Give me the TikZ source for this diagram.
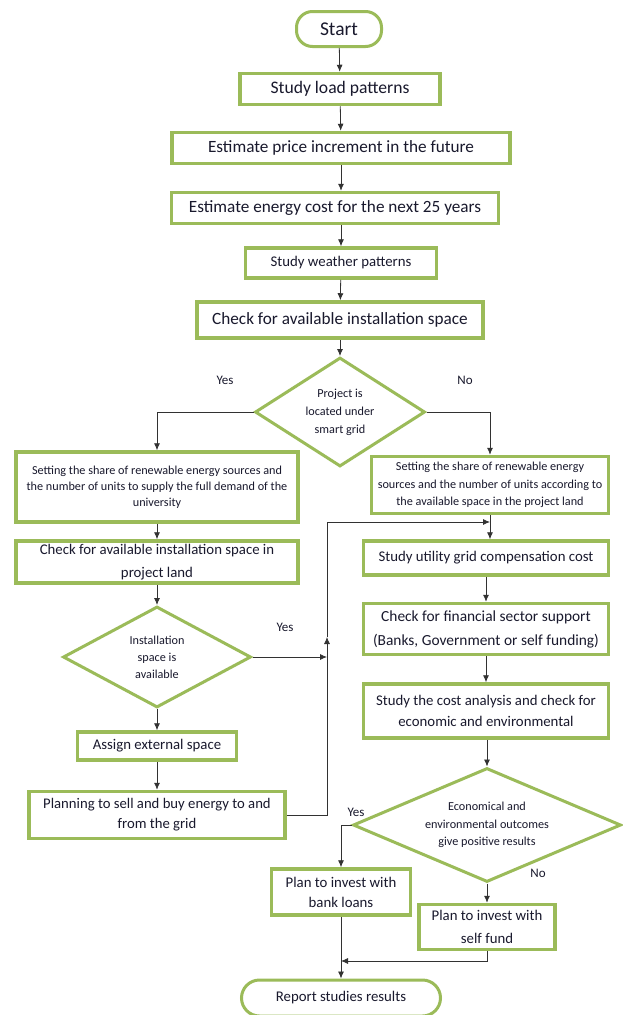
\documentclass[tikz,border=0pt]{standalone}
\usepackage{fontspec}
\setmainfont{Carlito}
\usetikzlibrary{shapes.geometric,arrows.meta}
\definecolor{boxgreen}{RGB}{155,187,89}
\definecolor{linegray}{RGB}{50,50,50}
\definecolor{inkblue}{RGB}{25,25,45}
\newcommand{\bigtxt}{\fontsize{17.2}{20}\selectfont}
\newcommand{\midtxt}{\fontsize{14.8}{22}\selectfont}
\newcommand{\smalltxt}{\fontsize{12.2}{17}\selectfont}

\tikzset{
  stepbox/.style={draw=boxgreen, line width=3.5pt, fill=white, align=center, inner sep=1pt, text=inkblue},
  endbox/.style={stepbox, line width=3pt, rounded corners=16pt},
  decision/.style={diamond, draw=boxgreen, line width=3pt, fill=white, align=center,
    inner sep=0pt, text=inkblue, font=\smalltxt},
  flow/.style={draw=linegray, line width=0.8pt, -{Latex[length=7pt,width=6pt]}},
  answer/.style={text=inkblue, font=\fontsize{13}{15}\selectfont}
}

\begin{document}
\begin{tikzpicture}[x=1pt,y=-1pt]
  \useasboundingbox[fill=white] (0,0) rectangle (623,1015);

  % main column
  \node[endbox, minimum width=85pt, minimum height=35pt, font=\fontsize{19.5}{22}\selectfont] (start) at (339,29) {Start};
  \node[stepbox, minimum width=200pt, minimum height=31pt, font=\fontsize{17.6}{20}\selectfont] (load) at (340,89) {Study load patterns};
  \node[stepbox, minimum width=338pt, minimum height=31pt, font=\bigtxt] (price) at (341,148) {Estimate price increment in the future};
  \node[stepbox, minimum width=327pt, minimum height=31pt, font=\bigtxt] (cost) at (335,208) {Estimate energy cost for the next 25 years};
  \node[stepbox, minimum width=191pt, minimum height=30pt, font=\midtxt] (weather) at (341,263) {Study weather patterns};
  \node[stepbox, minimum width=286pt, minimum height=36pt, font=\bigtxt] (space) at (340,320) {Check for available installation space};
  \node[decision, minimum width=170pt, minimum height=109pt, aspect=1.56, font=\fontsize{12.2}{18}\selectfont] (grid) at (340,412)
    {Project is\\located under\\smart grid};

  % left branch
  \node[stepbox, minimum width=282pt, minimum height=70pt, font=\fontsize{12.2}{16}\selectfont] (shareL) at (157,487)
    {Setting the share of renewable energy sources and\\the number of units to supply the full demand of the\\university};
  \node[stepbox, minimum width=282pt, minimum height=42pt, font=\fontsize{14.8}{23}\selectfont] (land) at (157,562)
    {Check for available installation space in\\project land};
  \node[decision, minimum width=188pt, minimum height=101pt, aspect=1.86] (avail) at (157,657) {Installation\\space is\\available};
  \node[stepbox, minimum width=159pt, minimum height=28pt, font=\midtxt] (assign) at (157,746) {Assign external space};
  \node[stepbox, minimum width=256pt, minimum height=47pt, font=\fontsize{14.7}{20}\selectfont] (sell) at (157,815)
    {Planning to sell and buy energy to and\\from the grid};

  % right branch
  \node[stepbox, minimum width=237pt, minimum height=57pt, font=\fontsize{12.2}{17.5}\selectfont] (shareR) at (490,485)
    {Setting the share of renewable energy\\sources and the number of units according to\\the available space in the project land};
  \node[stepbox, minimum width=245pt, minimum height=34pt, font=\midtxt] (util) at (486,558) {Study utility grid compensation cost};
  \node[stepbox, minimum width=245pt, minimum height=51pt, font=\fontsize{15.4}{24}\selectfont] (fund) at (486,629)
    {Check for financial sector support\\(Banks, Government or self funding)};
  \node[stepbox, minimum width=245pt, minimum height=54pt, font=\fontsize{14.8}{21}\selectfont] (analysis) at (486,711)
    {Study the cost analysis and check for\\economic and environmental};
  \node[decision, minimum width=268pt, minimum height=114pt, aspect=2.35, font=\fontsize{12.2}{17.5}\selectfont] (outcome) at (487,825)
    {Economical and\\environmental outcomes\\give positive results};
  \node[stepbox, minimum width=139pt, minimum height=46pt, font=\fontsize{14.8}{20}\selectfont] (bank) at (341,892) {Plan to invest with\\bank loans};
  \node[stepbox, minimum width=136pt, minimum height=45pt, font=\fontsize{14.8}{23}\selectfont] (self) at (487,927) {Plan to invest with\\self fund};
  \node[endbox, minimum width=199pt, minimum height=36pt, rounded corners=18pt, font=\midtxt] (report) at (341,998) {Report studies results};

  % answers
  \node[answer] (yes1) at (225,380) {Yes};
  \node[answer] (no1) at (465,380) {No};
  \node[answer] (yes2) at (285,627) {Yes};
  \node[answer] (yes3) at (356,812) {Yes};
  \node[answer] (no3) at (538,873) {No};

  % helper points
  \coordinate (riser) at (327,657);
  \coordinate (upTip) at (327,637);
  \coordinate (feed) at (490,522);
  \coordinate (merge) at (341,961);

  % connectors
  \draw[flow] (start) -- (load);
  \draw[flow] (load) -- (price);
  \draw[flow] (price.south) -- (price.south |- cost.north);
  \draw[flow] (cost.south -| weather.north) -- (weather);
  \draw[flow] (weather) -- (space);
  \draw[flow] (space) -- (grid);
  \draw[flow] (grid.west) -| (shareL.north);
  \draw[flow] (grid.east) -| (shareR.north);
  \draw[flow] (shareL) -- (land);
  \draw[flow] (land) -- (avail);
  \draw[flow] (avail) -- (assign);
  \draw[flow] (assign) -- (sell);
  \draw[flow] (avail.east) -- (riser);
  \draw[flow] (sell.east) -| (upTip);
  \draw[flow] (upTip) |- (feed);
  \draw[flow] (shareR.south -| feed) -- (util.north -| feed);
  \draw[flow] (util.south -| analysis.north) -- (fund);
  \draw[flow] (fund) -- (analysis);
  \draw[flow] (analysis.south -| outcome.north) -- (outcome);
  \draw[flow] (outcome.west) -| (bank.north);
  \draw[flow] (outcome.south) -- (self.north);
  \draw[flow] (bank) -- (report);
  \draw[flow] (self.south) |- (merge);
\end{tikzpicture}
\end{document}
